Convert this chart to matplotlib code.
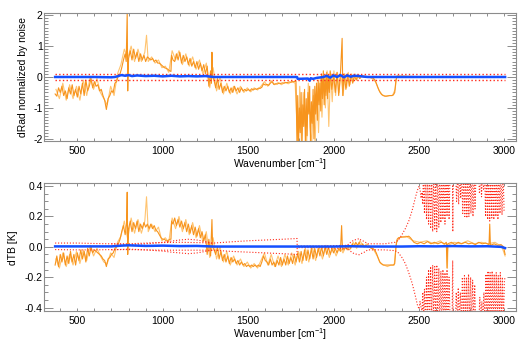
import matplotlib
matplotlib.use('Agg')
from matplotlib import pyplot as plt
from matplotlib.ticker import MultipleLocator, FormatStrFormatter

plt.rcParams['font.family'] = ['Liberation Sans', 'DejaVu Sans']
plt.rcParams['axes.unicode_minus'] = False
plt.rcParams['mathtext.fontset'] = 'custom'
plt.rcParams['mathtext.rm'] = 'Liberation Sans'
plt.rcParams['mathtext.it'] = 'Liberation Sans:italic'

# ---- top panel: radiance difference normalized by noise ----
# (wavenumber, value)
drad_dark = [
    (370, -0.55), (380, -0.62), (390, -0.35), (400, -0.5), (410, -0.3), (420, -0.6),
    (430, -0.45), (440, -0.7), (450, -0.35), (460, -0.55), (470, -0.25), (480, -0.6),
    (490, -0.4), (500, -0.65), (510, -0.3), (520, -0.55), (530, -0.2), (540, -0.6),
    (550, -0.1), (560, -0.45), (570, -0.3), (580, -0.05), (590, -0.35), (600, -0.15),
    (610, -0.3), (620, -0.25), (630, -0.45), (640, -0.4), (650, -0.6), (660, -0.75),
    (670, -1.05), (680, -0.7), (690, -0.6), (700, -0.45), (710, -0.5), (720, -0.2),
    (730, -0.15), (740, 0.05), (750, 0.1), (760, 0.3), (770, 0.55), (780, 0.75),
    (786, 0.5), (792, 2.1), (795, -0.45), (800, 0.6), (810, 0.85), (820, 0.55),
    (830, 0.9), (840, 0.6), (850, 0.8), (860, 0.5), (870, 0.75), (880, 0.55),
    (890, 0.7), (900, 0.5), (910, 0.65), (920, 0.6), (930, 0.55), (940, 0.6),
    (950, 0.5), (960, 0.55), (970, 0.45), (980, 0.45), (990, 0.4), (1000, 0.35),
    (1010, 0.3), (1020, 0.28), (1030, 0.25), (1040, 0.2), (1048, 0.18), (1052, 0.7),
    (1060, 0.55), (1070, 0.5), (1080, 0.75), (1090, 0.55), (1100, 0.8), (1110, 0.45),
    (1120, 0.7), (1130, 0.5), (1140, 0.65), (1150, 0.4), (1160, 0.6), (1170, 0.35),
    (1180, 0.5), (1190, 0.3), (1200, 0.5), (1210, 0.25), (1220, 0.45), (1230, 0.2),
    (1240, 0.4), (1250, 0.1), (1260, 0.35), (1270, -0.3), (1280, 0.2), (1285, -0.2),
    (1288, 0.8), (1292, 0.0), (1300, -0.1), (1310, -0.35), (1320, -0.05), (1330, -0.4),
    (1340, -0.2), (1350, -0.5), (1360, -0.3), (1370, -0.45), (1380, -0.3), (1390, -0.5),
    (1400, -0.35), (1410, -0.5), (1420, -0.3), (1430, -0.45), (1440, -0.35), (1450, -0.5),
    (1460, -0.35), (1470, -0.45), (1480, -0.4), (1490, -0.45), (1500, -0.4), (1510, -0.45),
    (1520, -0.38), (1530, -0.42), (1540, -0.38), (1550, -0.4), (1560, -0.36), (1570, -0.37),
    (1580, -0.33), (1590, -0.22), (1600, -0.26), (1610, -0.24), (1620, -0.27), (1630, -0.2),
    (1640, -0.15), (1650, -0.24), (1660, -0.22), (1670, -0.23), (1680, -0.2), (1690, -0.21),
    (1700, -0.19), (1710, -0.2), (1720, -0.18), (1730, -0.18), (1740, -0.16), (1750, -0.17),
    (1760, -0.15), (1770, -0.15), (1780, -0.13), (1786, -2.3), (1790, -0.6), (1795, -2.2),
    (1800, -1.0), (1805, -1.8), (1810, -0.5), (1815, -2.2), (1820, -0.9), (1825, -1.6),
    (1830, -0.4), (1835, -2.2), (1840, -0.7), (1845, -1.9), (1850, -0.5), (1855, -1.2),
    (1860, -0.3), (1865, -2.2), (1870, -0.8), (1875, -1.5), (1880, -0.4), (1885, -2.0),
    (1890, -0.3), (1895, -1.2), (1900, -0.2), (1905, -1.4), (1910, -0.1), (1915, -0.9),
    (1920, -0.2), (1925, -1.1), (1930, 0.1), (1935, -0.7), (1940, 0.2), (1945, -0.9),
    (1950, 0.0), (1955, -0.6), (1960, 0.15), (1965, -0.7), (1970, 0.05), (1975, -0.5),
    (1980, 0.2), (1990, -0.4), (2000, 0.1), (2010, -0.5), (2020, 0.15), (2030, -0.6),
    (2040, 0.1), (2050, 1.25), (2054, -0.6), (2062, 0.1), (2072, -0.4), (2082, 0.1),
    (2092, -0.3), (2102, 0.08), (2112, -0.2), (2122, 0.05), (2132, -0.1), (2142, 0.05),
    (2152, -0.05), (2162, 0.03), (2175, 0.0), (2190, 0.02), (2205, 0.0), (2220, -0.02),
    (2230, -0.03), (2240, -0.08), (2250, -0.2), (2260, -0.35), (2270, -0.48), (2280, -0.56),
    (2290, -0.6), (2300, -0.62), (2310, -0.62), (2320, -0.61), (2330, -0.6), (2340, -0.6),
    (2350, -0.58), (2358, -0.5), (2365, -0.1), (2372, 0.03), (2400, 0.03), (2450, 0.02),
    (2500, 0.01), (2600, 0.01), (2800, 0.0), (3004, 0.0),
]

drad_light = [
    (375, -0.4), (395, -0.7), (415, -0.2), (435, -0.75), (455, -0.25), (475, -0.7),
    (495, -0.3), (515, -0.75), (535, -0.1), (555, -0.6), (575, 0.0), (595, -0.4),
    (615, -0.05), (635, -0.5), (655, -0.7), (675, -0.9), (695, -0.3), (715, -0.6),
    (735, 0.1), (755, 0.4), (775, 0.9), (795, 0.6), (815, 1.0), (835, 0.5),
    (855, 0.9), (875, 0.5), (895, 0.8), (905, 1.35), (915, 0.5), (935, 0.65),
    (955, 0.45), (975, 0.55), (995, 0.3), (1015, 0.35), (1035, 0.15), (1055, 0.85),
    (1075, 0.55), (1095, 0.85), (1115, 0.4), (1135, 0.75), (1155, 0.35), (1175, 0.65),
    (1195, 0.25), (1215, 0.55), (1235, 0.1), (1255, 0.45), (1275, -0.35), (1295, 0.3),
    (1315, -0.45), (1335, 0.0), (1355, -0.55), (1375, -0.2), (1395, -0.55), (1415, -0.3),
    (1435, -0.55), (1455, -0.3), (1475, -0.5), (1495, -0.35), (1515, -0.48), (1535, -0.35),
    (1555, -0.42), (1575, -0.3), (1595, -0.15), (1615, -0.3), (1635, -0.12), (1655, -0.25),
    (1675, -0.18), (1695, -0.25), (1715, -0.17), (1735, -0.22), (1755, -0.15), (1775, -0.2),
    (1792, -2.3), (1802, -0.3), (1812, -2.2), (1822, -0.5), (1832, -1.4), (1842, -2.2),
    (1852, -0.2), (1862, -1.6), (1872, -2.2), (1882, -0.6), (1892, -2.2), (1902, -0.2),
    (1912, -1.8), (1922, 0.0), (1932, -1.3), (1942, 0.1), (1952, -1.0), (1962, 0.2),
    (1972, -1.6), (1982, 0.15), (1992, -0.8), (2002, 0.2), (2012, -0.6), (2022, 0.15),
    (2032, -0.5), (2042, 0.1), (2056, -0.6), (2066, 0.1), (2076, -0.35), (2086, 0.15),
    (2096, -0.25), (2106, 0.1), (2116, -0.15), (2126, 0.1), (2136, -0.1), (2146, 0.08),
    (2156, -0.05), (2166, 0.05), (2185, 0.02), (2205, 0.0), (2225, -0.05), (2245, -0.15),
    (2265, -0.42), (2285, -0.58), (2305, -0.62), (2325, -0.6), (2345, -0.6), (2360, -0.4),
    (2370, 0.03), (2380, 0.02),
]

blue_top = [
    (370, 0.0), (500, 0.0), (600, 0.0), (700, -0.01), (720, 0.0), (740, 0.03),
    (750, 0.05), (760, 0.06), (780, 0.04), (800, 0.06), (820, 0.03), (850, 0.05),
    (900, 0.03), (950, 0.04), (1000, 0.02), (1050, 0.04), (1100, 0.02), (1150, 0.03),
    (1200, 0.02), (1250, 0.03), (1300, 0.0), (1600, 0.0), (1786, 0.0), (1790, -0.06),
    (1850, -0.05), (1860, -0.12), (1866, -0.04), (1880, -0.06), (1900, -0.03), (1940, 0.0),
    (1960, 0.04), (1980, -0.02), (2000, 0.05), (2020, 0.0), (2040, 0.06), (2060, -0.01),
    (2080, 0.05), (2100, 0.01), (2120, 0.04), (2150, 0.03), (2180, 0.01), (2200, 0.0),
    (2500, 0.0), (3004, 0.0),
]

noise_level = 0.1
noise_wn = [370, 3004]

# ---- bottom panel: brightness temperature difference ----
dtb_dark = [
    (370, -0.12), (380, -0.06), (390, -0.13), (400, -0.05), (410, -0.1), (420, -0.04),
    (430, -0.12), (440, -0.06), (450, -0.11), (460, -0.03), (470, -0.1), (480, -0.05),
    (490, -0.12), (500, -0.04), (510, -0.09), (520, -0.02), (530, -0.08), (540, -0.03),
    (550, -0.1), (560, -0.01), (570, -0.06), (580, 0.0), (590, -0.04), (600, -0.02),
    (610, -0.03), (620, -0.04), (630, -0.05), (640, -0.06), (650, -0.08), (660, -0.09),
    (670, -0.13), (680, -0.08), (690, -0.07), (700, -0.05), (710, -0.04), (720, -0.01),
    (730, 0.0), (740, 0.02), (750, 0.05), (760, 0.1), (770, 0.14), (780, 0.08),
    (788, 0.15), (792, 0.36), (795, -0.05), (800, 0.12), (810, 0.17), (820, 0.1),
    (830, 0.16), (840, 0.12), (850, 0.17), (860, 0.1), (870, 0.15), (880, 0.12),
    (890, 0.16), (900, 0.13), (910, 0.15), (920, 0.12), (930, 0.15), (940, 0.12),
    (950, 0.14), (960, 0.11), (970, 0.1), (980, 0.08), (990, 0.06), (1000, 0.05),
    (1010, 0.05), (1020, 0.04), (1030, 0.04), (1040, 0.05), (1048, 0.05), (1052, 0.17),
    (1060, 0.15), (1070, 0.19), (1080, 0.14), (1090, 0.18), (1100, 0.13), (1110, 0.17),
    (1120, 0.12), (1130, 0.16), (1140, 0.1), (1150, 0.15), (1160, 0.09), (1170, 0.14),
    (1180, 0.08), (1190, 0.13), (1200, 0.07), (1210, 0.12), (1220, 0.06), (1230, 0.1),
    (1240, 0.04), (1250, 0.08), (1260, -0.05), (1270, 0.05), (1280, -0.06), (1288, 0.18),
    (1292, 0.0), (1300, -0.02), (1310, -0.05), (1320, 0.0), (1330, -0.08), (1340, -0.03),
    (1350, -0.09), (1360, -0.05), (1370, -0.1), (1380, -0.06), (1390, -0.11), (1400, -0.07),
    (1410, -0.1), (1420, -0.08), (1430, -0.11), (1440, -0.09), (1450, -0.12), (1460, -0.1),
    (1470, -0.12), (1480, -0.11), (1490, -0.13), (1500, -0.12), (1510, -0.13), (1520, -0.12),
    (1530, -0.13), (1540, -0.12), (1550, -0.13), (1560, -0.12), (1570, -0.13), (1580, -0.1),
    (1590, -0.06), (1600, -0.09), (1610, -0.1), (1620, -0.12), (1630, -0.08), (1640, -0.12),
    (1650, -0.1), (1660, -0.13), (1670, -0.09), (1680, -0.12), (1690, -0.07), (1700, -0.12),
    (1710, -0.08), (1720, -0.12), (1730, -0.06), (1740, -0.11), (1750, -0.07), (1760, -0.11),
    (1770, -0.05), (1780, -0.1), (1790, -0.04), (1800, -0.1), (1810, -0.03), (1820, -0.09),
    (1830, -0.02), (1840, -0.09), (1850, -0.02), (1860, -0.08), (1870, -0.01), (1880, -0.08),
    (1890, -0.01), (1900, -0.07), (1910, -0.01), (1920, -0.06), (1930, 0.0), (1940, -0.06),
    (1950, 0.0), (1960, -0.05), (1970, 0.0), (1980, -0.05), (1990, -0.01), (2000, -0.04),
    (2010, -0.01), (2020, -0.04), (2030, -0.01), (2040, -0.03), (2047, 0.14), (2052, -0.02),
    (2060, -0.02), (2070, 0.0), (2080, -0.02), (2090, 0.01), (2100, -0.01), (2110, 0.02),
    (2120, 0.0), (2130, 0.03), (2140, 0.01), (2150, 0.03), (2160, 0.0), (2170, 0.02),
    (2180, 0.0), (2190, 0.01), (2200, 0.0), (2210, 0.0), (2220, -0.01), (2230, -0.01),
    (2240, -0.02), (2250, -0.04), (2260, -0.07), (2270, -0.1), (2280, -0.11), (2290, -0.12),
    (2300, -0.12), (2320, -0.12), (2340, -0.12), (2350, -0.12), (2358, -0.11), (2365, 0.0),
    (2372, 0.05), (2380, 0.06), (2400, 0.065), (2420, 0.065), (2440, 0.07), (2450, 0.06),
    (2460, 0.045), (2470, 0.03), (2480, 0.025), (2490, 0.02), (2510, 0.03), (2530, 0.02),
    (2550, 0.035), (2570, 0.02), (2590, 0.03), (2610, 0.02), (2630, 0.03), (2650, 0.02),
    (2660, 0.03), (2664, -0.14), (2668, 0.02), (2690, 0.03), (2710, 0.015), (2730, 0.03),
    (2750, 0.02), (2770, 0.03), (2790, 0.02), (2810, 0.025), (2830, 0.015), (2850, 0.03),
    (2870, 0.02), (2890, 0.025), (2910, 0.015), (2914, 0.15), (2918, 0.01), (2940, 0.02),
    (2960, 0.01), (2980, 0.015), (2995, 0.0), (3004, -0.05),
]

dtb_light = [
    (375, -0.08), (395, -0.14), (415, -0.04), (435, -0.13), (455, -0.05), (475, -0.12),
    (495, -0.03), (515, -0.11), (535, -0.02), (555, -0.09), (575, 0.01), (595, -0.06),
    (615, -0.01), (635, -0.06), (655, -0.1), (675, -0.11), (695, -0.04), (715, -0.07),
    (735, 0.03), (755, 0.07), (775, 0.17), (795, 0.05), (815, 0.19), (835, 0.09),
    (855, 0.18), (875, 0.09), (895, 0.17), (905, 0.33), (915, 0.1), (935, 0.15),
    (955, 0.1), (975, 0.13), (995, 0.04), (1015, 0.06), (1035, 0.03), (1055, 0.19),
    (1075, 0.12), (1095, 0.2), (1115, 0.1), (1135, 0.18), (1155, 0.08), (1175, 0.16),
    (1195, 0.06), (1215, 0.14), (1235, 0.03), (1255, 0.1), (1275, -0.07), (1295, 0.06),
    (1315, -0.08), (1335, 0.0), (1355, -0.1), (1375, -0.03), (1395, -0.12), (1415, -0.06),
    (1435, -0.12), (1455, -0.08), (1475, -0.13), (1495, -0.1), (1515, -0.14), (1535, -0.11),
    (1555, -0.14), (1575, -0.09), (1595, -0.04), (1615, -0.12), (1635, -0.05), (1655, -0.13),
    (1675, -0.06), (1695, -0.13), (1715, -0.05), (1735, -0.12), (1755, -0.04), (1775, -0.12),
    (1795, -0.03), (1815, -0.11), (1835, -0.01), (1855, -0.1), (1875, 0.0), (1895, -0.09),
    (1915, 0.0), (1935, -0.08), (1955, 0.01), (1975, -0.07), (1995, 0.0), (2015, -0.06),
    (2035, 0.0), (2055, -0.04), (2075, 0.01), (2095, -0.02), (2115, 0.03), (2135, -0.01),
    (2155, 0.04), (2175, 0.0), (2195, 0.02), (2215, 0.0), (2235, -0.02), (2255, -0.06),
    (2275, -0.11), (2295, -0.12), (2315, -0.13), (2335, -0.12), (2355, -0.12), (2368, 0.03),
    (2385, 0.06), (2425, 0.07), (2465, 0.04), (2505, 0.03), (2545, 0.04), (2585, 0.02),
    (2625, 0.04), (2662, 0.0), (2666, -0.14), (2670, 0.01), (2705, 0.03), (2745, 0.02),
    (2785, 0.04), (2825, 0.02), (2865, 0.03), (2905, 0.02), (2945, 0.03), (2985, 0.0),
    (3004, -0.06),
]

blue_bottom = [
    (370, 0.003), (700, 0.003), (760, 0.008), (800, 0.01), (900, 0.006), (1000, 0.008),
    (1100, 0.005), (1200, 0.006), (1300, 0.002), (1400, 0.002), (2000, 0.002), (2100, 0.004),
    (2200, 0.002), (2400, 0.002), (2500, 0.004), (2600, 0.003), (2700, 0.005), (2800, 0.003),
    (2900, 0.004), (2980, 0.0), (3004, -0.008),
]

# noise envelope in TB units (upper and lower)
noise_tb_upper = [
    (370, 0.025), (500, 0.025), (600, 0.022), (700, 0.02), (800, 0.02), (900, 0.025),
    (1000, 0.028), (1100, 0.03), (1200, 0.028), (1300, 0.025), (1400, 0.033), (1500, 0.04),
    (1600, 0.045), (1700, 0.05), (1786, 0.055), (1787, 0.005), (1900, 0.005), (2000, 0.008),
    (2080, 0.01), (2100, 0.03), (2120, 0.045), (2140, 0.05), (2150, 0.055), (2160, 0.045),
    (2180, 0.035), (2200, 0.02), (2250, 0.02), (2300, 0.02), (2360, 0.03), (2380, 0.045),
    (2400, 0.08), (2420, 0.12), (2440, 0.17), (2460, 0.24), (2480, 0.33), (2490, 0.37),
    (2500, 0.4), (2506, 0.38), (2512, 0.32), (2518, 0.36), (2522, 0.28),
    (2526, 0.5), (2532, 0.22), (2538, 0.5), (2544, 0.18), (2550, 0.5), (2556, 0.15),
    (2562, 0.5), (2568, 0.12), (2574, 0.5), (2580, 0.1), (2586, 0.5), (2592, 0.11),
    (2598, 0.5), (2604, 0.1), (2610, 0.5), (2616, 0.13), (2622, 0.5), (2628, 0.16),
    (2634, 0.5), (2640, 0.18), (2646, 0.5), (2652, 0.15), (2658, 0.5), (2664, 0.2),
    (2670, 0.5), (2676, 0.18), (2682, 0.5), (2696, 0.5), (2698, 0.1), (2700, 0.5),
    (2714, 0.5), (2720, 0.3), (2726, 0.5), (2732, 0.28), (2738, 0.5), (2744, 0.32),
    (2750, 0.5), (2756, 0.22), (2762, 0.5), (2768, 0.2), (2774, 0.5), (2780, 0.19),
    (2786, 0.5), (2792, 0.2), (2798, 0.5), (2804, 0.22), (2810, 0.5), (2816, 0.2),
    (2822, 0.5), (2828, 0.25), (2834, 0.5), (2848, 0.5), (2854, 0.35), (2860, 0.5),
    (2866, 0.33), (2872, 0.5), (2878, 0.38), (2884, 0.5), (2890, 0.2), (2896, 0.5),
    (2902, 0.18), (2908, 0.5), (2914, 0.17), (2920, 0.5), (2926, 0.19), (2932, 0.5),
    (2938, 0.18), (2944, 0.5), (2950, 0.2), (2956, 0.5), (2962, 0.18), (2968, 0.5),
    (2974, 0.22), (2980, 0.5), (2986, 0.21), (2992, 0.5), (2998, 0.24), (3004, 0.23),
]

noise_tb_lower = [
    (370, -0.018), (500, -0.02), (600, -0.02), (700, -0.018), (800, -0.018), (900, -0.02),
    (1000, -0.022), (1100, -0.022), (1200, -0.022), (1300, -0.022), (1400, -0.03), (1500, -0.035),
    (1600, -0.04), (1700, -0.045), (1786, -0.05), (1787, -0.005), (1900, -0.005), (2000, -0.008),
    (2080, -0.01), (2100, -0.03), (2120, -0.045), (2140, -0.05), (2150, -0.052), (2160, -0.045),
    (2180, -0.035), (2200, -0.02), (2250, -0.02), (2300, -0.02), (2360, -0.025), (2380, -0.04),
    (2400, -0.07), (2420, -0.11), (2440, -0.17), (2460, -0.24), (2480, -0.33), (2490, -0.38),
    (2500, -0.41), (2506, -0.36), (2512, -0.4), (2518, -0.42), (2522, -0.3),
    (2526, -0.5), (2532, -0.28), (2538, -0.5), (2544, -0.2), (2550, -0.5), (2556, -0.15),
    (2562, -0.5), (2568, -0.13), (2574, -0.5), (2580, -0.12), (2586, -0.5), (2592, -0.13),
    (2598, -0.5), (2604, -0.12), (2610, -0.5), (2616, -0.14), (2622, -0.5), (2628, -0.16),
    (2634, -0.5), (2640, -0.15), (2646, -0.5), (2652, -0.17), (2658, -0.5), (2664, -0.15),
    (2670, -0.5), (2676, -0.2), (2682, -0.5), (2694, -0.5), (2697, -0.09), (2700, -0.5),
    (2712, -0.5), (2718, -0.3), (2724, -0.5), (2730, -0.27), (2736, -0.5), (2742, -0.3),
    (2748, -0.5), (2754, -0.2), (2760, -0.5), (2766, -0.19), (2772, -0.5), (2778, -0.2),
    (2784, -0.5), (2790, -0.18), (2796, -0.5), (2802, -0.2), (2808, -0.5), (2814, -0.22),
    (2820, -0.5), (2826, -0.25), (2832, -0.5), (2850, -0.5), (2856, -0.33), (2862, -0.5),
    (2868, -0.36), (2874, -0.5), (2880, -0.3), (2886, -0.5), (2892, -0.18), (2898, -0.5),
    (2904, -0.16), (2910, -0.5), (2916, -0.17), (2922, -0.5), (2928, -0.16), (2934, -0.5),
    (2940, -0.18), (2946, -0.5), (2952, -0.17), (2958, -0.5), (2964, -0.19), (2970, -0.5),
    (2976, -0.17), (2982, -0.5), (2988, -0.2), (2994, -0.5), (3000, -0.22), (3004, -0.2),
]

# second noise pair, only in the window region
lens_wn = [700, 800, 900, 1000, 1050, 1100, 1150, 1200, 1250, 1300]
lens_up = [0.02, 0.015, 0.02, 0.03, 0.038, 0.045, 0.05, 0.045, 0.035, 0.02]
lens_dn = [-0.02, -0.015, -0.02, -0.028, -0.035, -0.04, -0.045, -0.04, -0.03, -0.02]

DARK = '#f7941d'
LIGHT = '#ffc470'
BLUE = '#1450ff'
RED = '#ff2a1a'
FRAME = '#8c8c8c'
FS = 7.5


def unzip(pairs):
    return [p[0] for p in pairs], [p[1] for p in pairs]


def style_axes(ax, ylo, yhi, ymaj, ymin, fmt):
    ax.set_xlim(305, 3068)
    ax.set_ylim(ylo, yhi)
    ax.xaxis.set_major_locator(MultipleLocator(500))
    ax.xaxis.set_minor_locator(MultipleLocator(100))
    ax.yaxis.set_major_locator(MultipleLocator(ymaj))
    ax.yaxis.set_minor_locator(MultipleLocator(ymin))
    ax.yaxis.set_major_formatter(FormatStrFormatter(fmt))
    ax.tick_params(axis='both', which='both', direction='in', colors=FRAME,
                   labelcolor='black', labelsize=FS, width=0.7)
    ax.tick_params(axis='x', which='both', top=True, length=2.2, pad=3.5)
    ax.tick_params(axis='y', which='major', right=True, length=6.5, pad=1)
    ax.tick_params(axis='y', which='minor', right=True, length=3.2)
    for s in ax.spines.values():
        s.set_color(FRAME)
        s.set_linewidth(0.8)
    ax.set_xlabel('Wavenumber [cm$^{-1}$]', fontsize=FS, labelpad=0)


fig = plt.figure(figsize=(5.24, 3.41), dpi=100)
ax1 = fig.add_axes([0.084, 0.5865, 0.9008, 0.3754])
ax2 = fig.add_axes([0.084, 0.087, 0.9008, 0.376])

# top
x, y = unzip(drad_light)
ax1.plot(x, y, color=LIGHT, lw=0.8)
x, y = unzip(drad_dark)
ax1.plot(x, y, color=DARK, lw=0.8)
ax1.plot(noise_wn, [noise_level] * 2, color=RED, lw=1.0, ls=':')
ax1.plot(noise_wn, [-noise_level] * 2, color=RED, lw=1.0, ls=':')
x, y = unzip(blue_top)
ax1.plot(x, y, color=BLUE, lw=1.8)
style_axes(ax1, -2.07, 2.07, 1, 0.1, '%d')
ax1.set_ylabel('dRad normalized by noise', fontsize=FS)
ax1.yaxis.set_label_coords(-0.034, 0.5)

# bottom
x, y = unzip(dtb_light)
ax2.plot(x, y, color=LIGHT, lw=0.8)
x, y = unzip(dtb_dark)
ax2.plot(x, y, color=DARK, lw=0.8)
x, y = unzip(noise_tb_upper)
ax2.plot(x, y, color=RED, lw=0.8, ls=':')
x, y = unzip(noise_tb_lower)
ax2.plot(x, y, color=RED, lw=0.8, ls=':')
ax2.plot(lens_wn, lens_up, color=RED, lw=0.8, ls=':')
ax2.plot(lens_wn, lens_dn, color=RED, lw=0.8, ls=':')
x, y = unzip(blue_bottom)
ax2.plot(x, y, color=BLUE, lw=1.8)
style_axes(ax2, -0.425, 0.42, 0.2, 0.05, '%.1f')
ax2.set_ylabel('dTB [K]', fontsize=FS)
ax2.yaxis.set_label_coords(-0.055, 0.5)

fig.savefig('out.png', dpi=100)
